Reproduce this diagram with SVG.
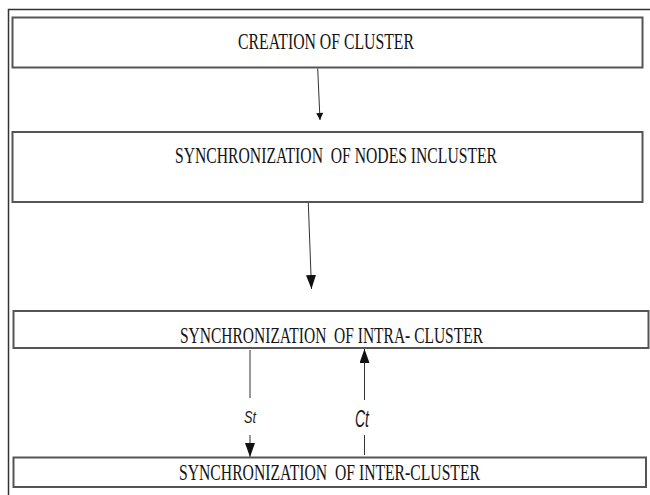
<svg xmlns="http://www.w3.org/2000/svg" width="650" height="495" viewBox="0 0 650 495">
  <style>
    .box { fill: #ffffff; stroke: #555555; stroke-width: 2; }
    .lbl { font-family: "Liberation Serif", "Times New Roman", serif; font-size: 23px; fill: #141414; white-space: pre; }
    .edge { stroke: #333333; stroke-width: 1; fill: none; }
    .elbl { font-family: "Liberation Sans", Arial, sans-serif; fill: #1a1a1a; font-style: italic; }
  </style>
  <defs>
    <marker id="arrS" viewBox="0 0 8 8" refX="8" refY="4" markerWidth="8" markerHeight="7" markerUnits="userSpaceOnUse" orient="auto">
      <path d="M0,0 L8,4 L0,8 Z" fill="#111111"/>
    </marker>
    <marker id="arrL" viewBox="0 0 14 10" refX="14" refY="5" markerWidth="14" markerHeight="10" markerUnits="userSpaceOnUse" orient="auto">
      <path d="M0,0 L14,5 L0,10 Z" fill="#111111"/>
    </marker>
  </defs>
  <rect x="0" y="0" width="650" height="495" fill="#ffffff"/>
  <path id="frame" d="M8.5,495 V9.5 H650" fill="none" stroke="#333333" stroke-width="1.5"/>

  <g id="connectors">
    <line class="edge" x1="317.7" y1="68.5" x2="320" y2="120" marker-end="url(#arrS)"/>
    <line class="edge" x1="308.3" y1="203" x2="311.5" y2="289" marker-end="url(#arrL)"/>
    <line class="edge" x1="250" y1="350" x2="250" y2="398"/>
    <line class="edge" x1="250" y1="435" x2="250" y2="457" marker-end="url(#arrL)"/>
    <line class="edge" x1="364.5" y1="455" x2="364.5" y2="435"/>
    <line class="edge" x1="364.5" y1="400" x2="364.5" y2="349" marker-end="url(#arrL)"/>
    <text class="elbl" x="244" y="423" font-size="16" textLength="12" lengthAdjust="spacingAndGlyphs">St</text>
    <text class="elbl" x="355" y="427" font-size="23" textLength="14" lengthAdjust="spacingAndGlyphs">Ct</text>
  </g>

  <g id="node-creation">
    <rect class="box" x="12.5" y="17.5" width="630" height="50"/>
    <text class="lbl" x="238" y="49" textLength="176" lengthAdjust="spacingAndGlyphs">CREATION OF CLUSTER</text>
  </g>
  <g id="node-sync-nodes">
    <rect class="box" x="12.5" y="132" width="630" height="70"/>
    <text class="lbl" x="175" y="163" textLength="322" lengthAdjust="spacingAndGlyphs">SYNCHRONIZATION  OF NODES INCLUSTER</text>
  </g>
  <g id="node-sync-intra">
    <rect class="box" x="13.5" y="311" width="635" height="37"/>
    <text class="lbl" x="180" y="343" textLength="303" lengthAdjust="spacingAndGlyphs">SYNCHRONIZATION  OF INTRA- CLUSTER</text>
  </g>
  <g id="node-sync-inter">
    <rect class="box" x="13.5" y="457.5" width="632.5" height="29.5"/>
    <text class="lbl" x="179" y="480" textLength="301" lengthAdjust="spacingAndGlyphs">SYNCHRONIZATION  OF INTER-CLUSTER</text>
  </g>
</svg>
